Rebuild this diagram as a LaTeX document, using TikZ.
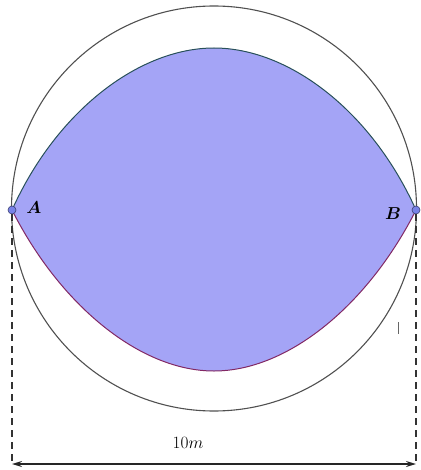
\documentclass[tikz,border=0pt]{standalone}
\usepackage{amsmath,bm}
\usetikzlibrary{arrows.meta}
\definecolor{fillblue}{RGB}{164,164,246}
\definecolor{topline}{RGB}{40,80,90}
\definecolor{botline}{RGB}{130,40,100}
\definecolor{circgray}{RGB}{80,80,80}
\definecolor{ptfill}{RGB}{120,130,230}
\tikzset{
  ptstyle/.style={circle,draw=ptfill!50!black,fill=ptfill,inner sep=0pt,minimum size=8pt,line width=0.6pt},
  dimline/.style={dashed,dash pattern=on 7pt off 5pt,line width=1.1pt,draw=black!80},
  lbl/.style={font=\fontsize{17}{20}\selectfont},
}
\begin{document}
\begin{tikzpicture}[x=1pt,y=-1pt]
\useasboundingbox (0,0) rectangle (420,470);
\coordinate (O) at (214,208.5);
\draw[circgray,line width=1.1pt] (O) circle (202.5);
\coordinate (Ap) at (12,210);
\coordinate (Bp) at (416,210);
\coordinate (T) at (214,48);
\coordinate (Bt) at (214,371);
\fill[fillblue] (Ap) .. controls (57,110) and (140,48) .. (T)
  .. controls (288,48) and (371,110) .. (Bp)
  .. controls (368,305) and (288,371) .. (Bt)
  .. controls (140,371) and (60,305) .. (Ap) -- cycle;
\draw[topline,line width=1pt] (Ap) .. controls (57,110) and (140,48) .. (T)
  .. controls (288,48) and (371,110) .. (Bp);
\draw[botline,line width=1pt] (Bp) .. controls (368,305) and (288,371) .. (Bt)
  .. controls (140,371) and (60,305) .. (Ap);
\node[ptstyle] (A) at (Ap) {};
\node[ptstyle] (B) at (Bp) {};
\node[lbl] (la) at (34,208) {$\bm{A}$};
\node[lbl] (lb) at (393,214) {$\bm{B}$};
\coordinate (Ad) at (12,464);
\coordinate (Bd) at (416,464);
\draw[dimline] (A.south) -- (Ad);
\draw[dimline] (B.south) -- (Bd);
\draw[black!60,line width=1pt] (398,322) -- (398,334);
\draw[{Stealth[length=10pt,width=6pt]}-{Stealth[length=10pt,width=6pt]},line width=1.5pt,black!85] (Ad) -- (Bd);
\node[lbl] (dim) at (188,443) {$10m$};
\end{tikzpicture}
\end{document}
